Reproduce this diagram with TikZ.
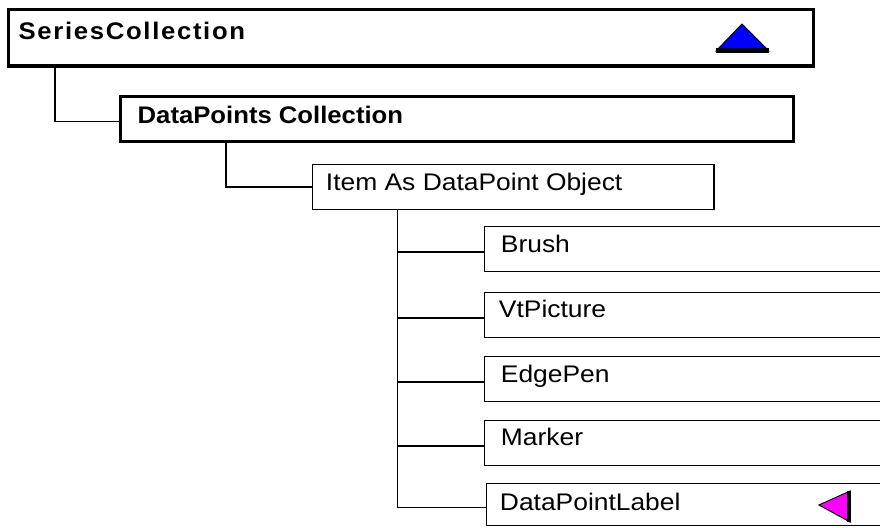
\documentclass[tikz,border=0pt]{standalone}
\usepackage{fontspec}
\setmainfont{Liberation Sans}[FakeStretch=1.1,BoldFeatures={FakeStretch=1.07}]
\newfontfamily\spacedbold{Liberation Sans}[FakeStretch=1.07,LetterSpace=7]
\definecolor{markblue}{RGB}{0,0,255}
\definecolor{markpink}{RGB}{255,0,255}
\begin{document}
\begin{tikzpicture}[x=1pt,y=-1pt,
  thickbox/.style={draw=black,line width=3pt,minimum height=45pt,inner sep=0pt,anchor=north west,fill=white},
  thinbox/.style={draw=black,line width=1.5pt,minimum height=45pt,inner sep=0pt,anchor=north west,fill=white},
  txt/.style={anchor=base west,inner sep=0pt,font=\fontsize{24}{28}\selectfont},
  boldtxt/.style={txt,font=\fontsize{24}{28}\selectfont\bfseries},
  wire/.style={draw=black,line width=1.5pt}]
\clip (0,0) rectangle (880,527);
\fill[white] (0,0) rectangle (880,527);

% boxes of the object hierarchy
\node[thickbox,minimum width=805pt,minimum height=56pt] (sc) at (6.5,8.5) {};
\node[thickbox,minimum width=673pt] (dp) at (118.5,94.5) {};
\node[thinbox,minimum width=401.5pt] (item) at (311.75,163.75) {};
\node[thinbox,minimum width=420pt] (brush) at (483.75,225.75) {};
\node[thinbox,minimum width=420pt] (vtpic) at (483.75,291.75) {};
\node[thinbox,minimum width=420pt] (edge) at (483.75,355.75) {};
\node[thinbox,minimum width=420pt] (marker) at (483.75,419.75) {};
\node[thinbox,minimum width=420pt,minimum height=42pt] (dpl) at (485.75,482.75) {};

% captions
\node[boldtxt,font=\fontsize{24}{28}\selectfont\spacedbold\bfseries] (scT) at ([xshift=12pt,yshift=-31.5pt]sc.north west) {SeriesCollection};
\node[boldtxt] (dpT) at ([xshift=19pt,yshift=-28.5pt]dp.north west) {DataPoints Collection};
\node[txt] (itemT) at ([xshift=14pt,yshift=-26.5pt]item.north west) {Item As DataPoint Object};
\node[txt] (brushT) at ([xshift=17pt,yshift=-26.5pt]brush.north west) {Brush};
\node[txt] (vtpicT) at ([xshift=15pt,yshift=-25.5pt]vtpic.north west) {VtPicture};
\node[txt] (edgeT) at ([xshift=17pt,yshift=-26.5pt]edge.north west) {EdgePen};
\node[txt] (markerT) at ([xshift=17pt,yshift=-25.5pt]marker.north west) {Marker};
\node[txt] (dplT) at ([xshift=14pt,yshift=-27.5pt]dpl.north west) {DataPointLabel};

% tree connectors
\draw[wire] ([xshift=48.5pt]sc.south west) |- ([yshift=-3pt]dp.west);
\draw[wire] ([xshift=107.5pt]dp.south west) |- (item.west);
\coordinate (trunk) at ([xshift=85.5pt]item.south west);
\draw[wire] (trunk) |- ([yshift=-3pt]dpl.west);
\draw[wire] (trunk |- brush.west) ++(0,3) -- ([yshift=-3pt]brush.west);
\draw[wire] (trunk |- vtpic.west) ++(0,3) -- ([yshift=-3pt]vtpic.west);
\draw[wire] (trunk |- edge.west) ++(0,3) -- ([yshift=-3pt]edge.west);
\draw[wire] (trunk |- marker.west) ++(0,3) -- ([yshift=-3pt]marker.west);

% collection marker (blue) and label marker (pink)
\filldraw[fill=markblue,draw=black,line width=1pt,line join=miter] (716,51) -- (742,24) -- (769,51) -- cycle;
\draw[black,line width=4.5pt] (716,50.5) -- (769,50.5);
\filldraw[fill=markpink,draw=black,line width=1pt] (819,505) -- (850,491) -- (850,522) -- cycle;
\draw[black,line width=4pt] (849,491) -- (849,522);
\end{tikzpicture}
\end{document}
